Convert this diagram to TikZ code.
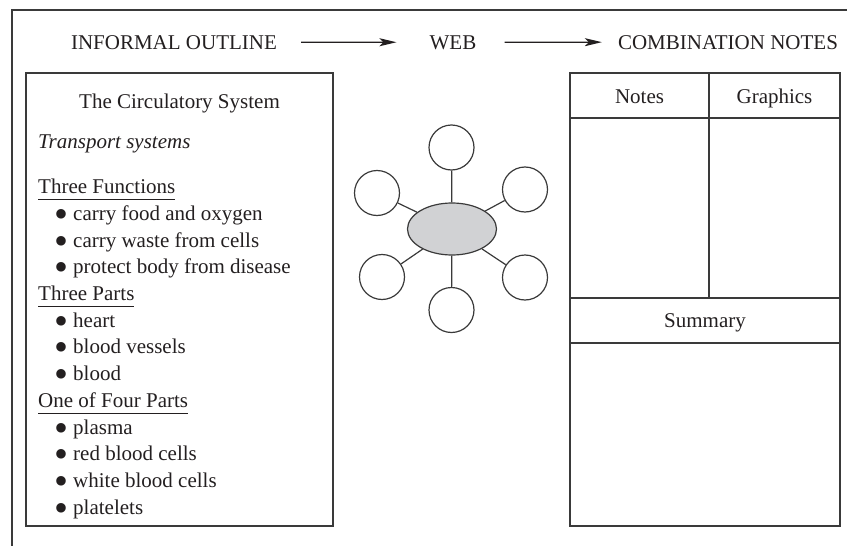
\documentclass[tikz,border=0pt]{standalone}
\usepackage{fontspec}
\setmainfont{Liberation Serif}
\usetikzlibrary{arrows.meta, shapes.geometric}

\definecolor{ink}{HTML}{231F20}
\definecolor{rulegray}{HTML}{3A3A3A}
\definecolor{hubgray}{HTML}{D1D2D4}

\newcommand{\itm}[1]{\makebox[19pt][l]{\smash{\raisebox{-7.5pt}{\scalebox{1.9}{\textbullet}}}}#1}
\newcommand{\uhead}[1]{\underline{#1\vphantom{y}}}

\begin{document}
\begin{tikzpicture}[x=1pt,y=-1pt,
        txt/.style={anchor=base, inner sep=0pt, text=ink, font=\fontsize{21}{26}\selectfont},
        head/.style={txt, anchor=base west},
        item/.style={txt, anchor=base west},
        frameline/.style={draw=rulegray, line width=1.2pt},
        arr/.style={-{Stealth[length=17pt,width=8pt,inset=4pt]}, draw=ink, line width=1.2pt},
        hub/.style={ellipse, draw=rulegray, fill=hubgray, minimum width=89pt, minimum height=52pt, line width=1.2pt},
        leaf/.style={circle, draw=rulegray, minimum size=45pt, inner sep=0pt, line width=1.2pt},
        spoke/.style={draw=rulegray, line width=1.2pt}]

        \useasboundingbox (0,0) rectangle (847,546);

        % outer frame
        \draw[frameline] (12,546) -- (12,10) -- (847,10);

        % top row
        \node[txt] (outline) at (174,49) {INFORMAL OUTLINE};
        \node[txt] (web) at (453,49) {WEB};
        \node[txt] (combo) at (728,49) {COMBINATION NOTES};

        \draw[arr, shorten <=24pt, shorten >=33pt] (outline.east) -- (web.west);
        \draw[arr, shorten <=28pt, shorten >=16pt] (web.east) -- (combo.west);

        % informal outline
        \draw[frameline] (26,73) rectangle (333,526);
        \node[txt] (title) at (179.5,108) {The Circulatory System};
        \node[head] (transport) at (38,148) {\textit{Transport systems}};

        \node[head] (functions) at (38,193) {\uhead{Three Functions}};
        \node[item] (food) at (54,220) {\itm{carry food and oxygen}};
        \node[item] (waste) at (54,247) {\itm{carry waste from cells}};
        \node[item] (protect) at (54,273) {\itm{protect body from disease}};

        \node[head] (parts) at (38,300) {\uhead{Three Parts}};
        \node[item] (heart) at (54,327) {\itm{heart}};
        \node[item] (vessels) at (54,353) {\itm{blood vessels}};
        \node[item] (blood) at (54,380) {\itm{blood}};

        \node[head] (four) at (38,407) {\uhead{One of Four Parts}};
        \node[item] (plasma) at (54,434) {\itm{plasma}};
        \node[item] (red) at (54,460) {\itm{red blood cells}};
        \node[item] (white) at (54,487) {\itm{white blood cells}};
        \node[item] (platelets) at (54,514) {\itm{platelets}};

        % web
        \node[hub] (center) at (452,229) {};
        \node[leaf] (top) at (451.5,147.5) {};
        \node[leaf] (upleft) at (377,193) {};
        \node[leaf] (upright) at (525,189.5) {};
        \node[leaf] (lowleft) at (382,277) {};
        \node[leaf] (lowright) at (525,277.5) {};
        \node[leaf] (bottom) at (451.5,310) {};

        \draw[spoke] (center) -- (top);
        \draw[spoke] (center) -- (upleft);
        \draw[spoke] (center) -- (upright);
        \draw[spoke] (center) -- (lowleft);
        \draw[spoke] (center) -- (lowright);
        \draw[spoke] (center) -- (bottom);

        % combination notes
        \draw[frameline] (570,73) rectangle (840,526);
        \draw[frameline] (570,118) -- (840,118);
        \draw[frameline] (709,73) -- (709,298);
        \draw[frameline] (570,298) -- (840,298);
        \draw[frameline] (570,343) -- (840,343);
        \node[txt] (notes) at (639.5,103) {Notes};
        \node[txt] (graphics) at (774.5,103) {Graphics};
        \node[txt] (summary) at (705,327) {Summary};

      \end{tikzpicture}
\end{document}
